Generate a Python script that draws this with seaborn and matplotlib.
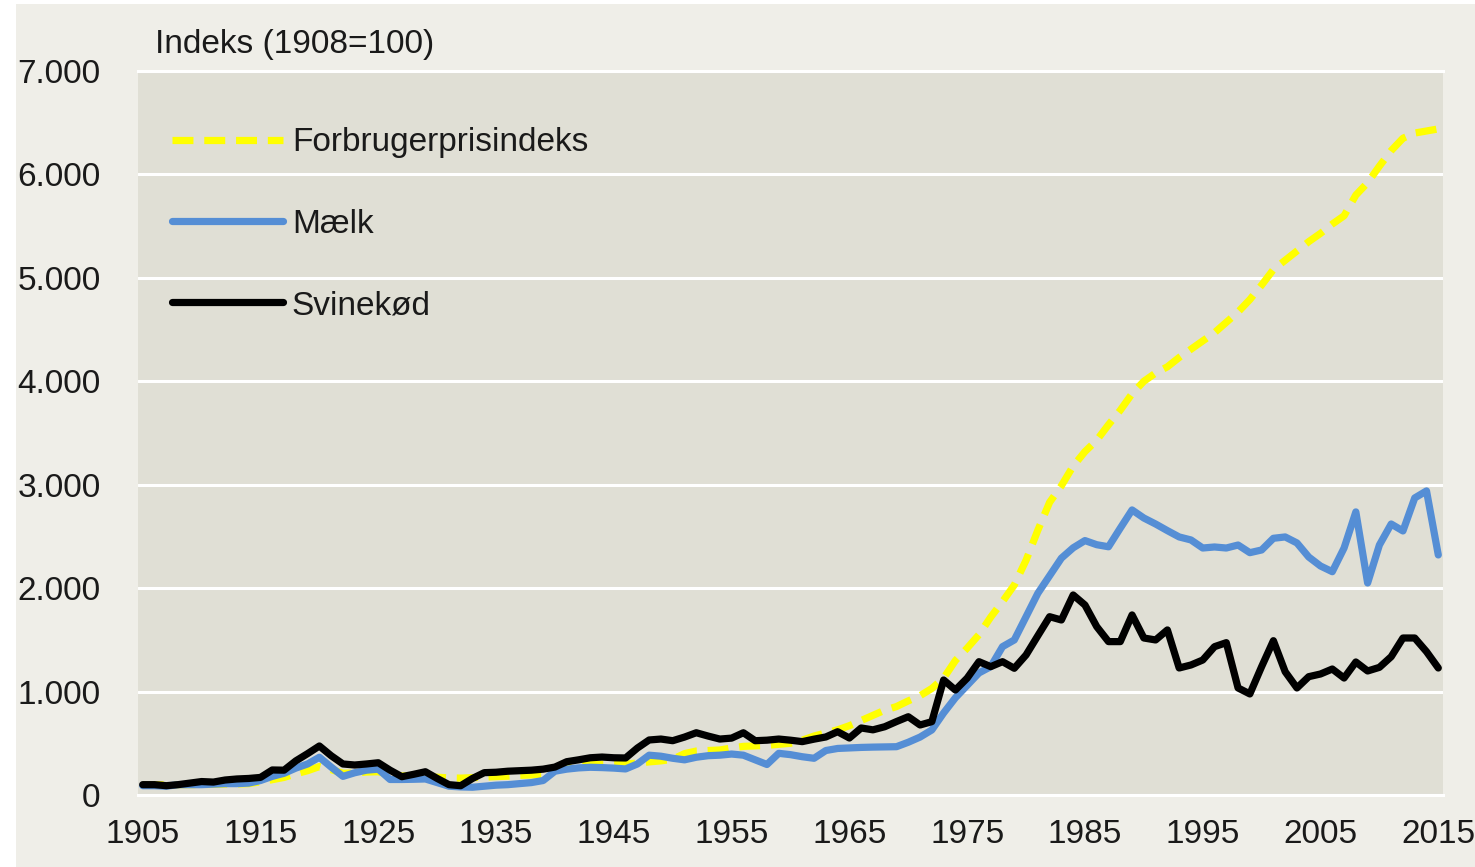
import numpy as np
import pandas as pd
import matplotlib
matplotlib.use("Agg")
import matplotlib.pyplot as plt
from matplotlib.patches import Rectangle
from matplotlib.ticker import FuncFormatter, FixedLocator
import seaborn as sns

# ---------------- data ----------------
years = list(range(1905, 2016))

forbrugerprisindeks = [
    95, 97, 99, 100, 100, 101, 103, 106, 107, 110,            # 1905-1914
    128, 148, 170, 205, 235, 275, 245, 210, 212, 222,         # 1915-1924
    225, 195, 185, 183, 180, 172, 165, 163, 168, 173,         # 1925-1934
    178, 182, 190, 194, 198, 240, 275, 290, 293, 297,         # 1935-1944
    300, 300, 308, 320, 330, 345, 400, 425, 430, 435,         # 1945-1954
    455, 470, 475, 480, 490, 500, 530, 570, 600, 630,         # 1955-1964
    670, 720, 770, 820, 855, 910, 960, 1030, 1130, 1300,      # 1965-1974
    1420, 1550, 1720, 1870, 2030, 2270, 2560, 2830, 2990, 3180,  # 1975-1984
    3320, 3430, 3580, 3720, 3880, 4000, 4080, 4140, 4230, 4310,  # 1985-1994
    4390, 4470, 4570, 4670, 4790, 4930, 5080, 5170, 5260, 5350,  # 1995-2004
    5430, 5520, 5600, 5800, 5920, 6080, 6230, 6350, 6400, 6420,  # 2005-2014
    6440,                                                     # 2015
]

maelk = [
    90, 90, 85, 100, 100, 100, 105, 110, 110, 115,
    140, 180, 210, 260, 300, 365, 270, 180, 215, 240,
    250, 150, 150, 152, 155, 120, 85, 78, 75, 85,
    95, 100, 110, 120, 140, 230, 250, 262, 268, 265,
    260, 252, 300, 385, 375, 355, 340, 365, 380, 385,
    396, 385, 340, 295, 403, 390, 370, 355, 430, 450,
    455, 460, 463, 465, 467, 510, 560, 629, 793, 940,
    1060, 1180, 1241, 1434, 1499, 1724, 1950, 2120, 2290, 2390,
    2460, 2420, 2400, 2580, 2756, 2678, 2620, 2556, 2495, 2466,
    2388, 2398, 2388, 2417, 2343, 2369, 2482, 2495, 2437, 2301,
    2214, 2159, 2388, 2737, 2050, 2417, 2620, 2553, 2872, 2940,
    2321,
]

svinekoed = [
    100, 100, 90, 100, 115, 130, 125, 145, 155, 160,
    170, 242, 240, 330, 400, 474, 380, 300, 290, 300,
    312, 240, 177, 200, 225, 160, 100, 90, 160, 216,
    220, 230, 235, 240, 250, 270, 322, 340, 360, 367,
    360, 358, 454, 532, 541, 525, 560, 602, 570, 541,
    550, 602, 525, 530, 541, 530, 516, 540, 561, 612,
    551, 648, 630, 660, 710, 757, 677, 709, 1112, 1015,
    1130, 1289, 1241, 1289, 1225, 1354, 1540, 1724, 1692, 1934,
    1837, 1628, 1483, 1483, 1741, 1518, 1499, 1596, 1228, 1257,
    1305, 1434, 1473, 1035, 977, 1241, 1492, 1192, 1035, 1144,
    1170, 1218, 1131, 1286, 1199, 1234, 1337, 1518, 1518, 1386,
    1228,
]

series_names = ["Forbrugerprisindeks", "Mælk", "Svinekød"]
y_ticks = [0, 1000, 2000, 3000, 4000, 5000, 6000, 7000]
x_ticks = list(range(1905, 2016, 10))
y_title = "Indeks (1908=100)"

df = pd.concat([
    pd.DataFrame({"År": years, "Indeks": vals, "Serie": name})
    for name, vals in zip(series_names, [forbrugerprisindeks, maelk, svinekoed])
], ignore_index=True)

# ---------------- style ----------------
sns.set_style("white")
plt.rcParams["font.family"] = ["Liberation Sans", "DejaVu Sans"]
text_color = "#1a1a1a"

W, H = 1475, 867
fig = plt.figure(figsize=(W / 100, H / 100), dpi=100)
fig.patch.set_facecolor("white")
fig.patches.append(Rectangle((16 / W, 0), 1, 1 - 4 / H, transform=fig.transFigure,
                             facecolor="#EFEEE8", edgecolor="none", zorder=-10))

ax = fig.add_axes([138 / W, 72 / H, 1305 / W, 724 / H])
ax.set_facecolor("#E0DFD5")

palette = {"Forbrugerprisindeks": "#FFFF00", "Mælk": "#558ED5", "Svinekød": "#000000"}
dashes = {"Forbrugerprisindeks": (2.9, 1.5), "Mælk": "", "Svinekød": ""}

sns.lineplot(data=df, x="År", y="Indeks", hue="Serie", style="Serie",
             hue_order=series_names, style_order=series_names,
             palette=palette, dashes=dashes, linewidth=5.2, ax=ax, zorder=3)

for line in ax.get_lines():
    line.set_solid_capstyle("round")
    line.set_solid_joinstyle("round")
    line.set_dash_capstyle("butt")

ax.set_xlim(1904.6, 2015.4)
ax.set_ylim(0, 7000)
ax.xaxis.set_major_locator(FixedLocator(x_ticks))
ax.yaxis.set_major_locator(FixedLocator(y_ticks))
ax.yaxis.set_major_formatter(FuncFormatter(lambda v, p: f"{v:,.0f}".replace(",", ".")))

ax.grid(axis="y", color="white", linewidth=2.2, zorder=1)
ax.grid(axis="x", visible=False)
ax.set_axisbelow(True)
for side in ["left", "right"]:
    ax.spines[side].set_visible(False)
for side in ["top", "bottom"]:
    ax.spines[side].set_color("white")
    ax.spines[side].set_linewidth(2.2)

ax.tick_params(axis="y", length=0, pad=27, labelsize=24, labelcolor=text_color)
ax.tick_params(axis="x", length=0, pad=17, labelsize=24, labelcolor=text_color)
ax.set_xlabel("")
ax.set_ylabel("")

ax.text(0.013, 1.037, y_title, transform=ax.transAxes, ha="left", va="center",
        fontsize=24, color=text_color)

handles, labels = ax.get_legend_handles_labels()
leg = ax.legend(handles, labels, loc="upper left", bbox_to_anchor=(0.026, 0.922),
                frameon=False, fontsize=24, handlelength=3.33, handletextpad=0.27,
                labelspacing=1.51, borderpad=0, borderaxespad=0)
for t in leg.get_texts():
    t.set_color(text_color)
for lh in leg.get_lines():
    lh.set_linewidth(5.2)

fig.savefig("out.png", dpi=100, facecolor=fig.get_facecolor())
